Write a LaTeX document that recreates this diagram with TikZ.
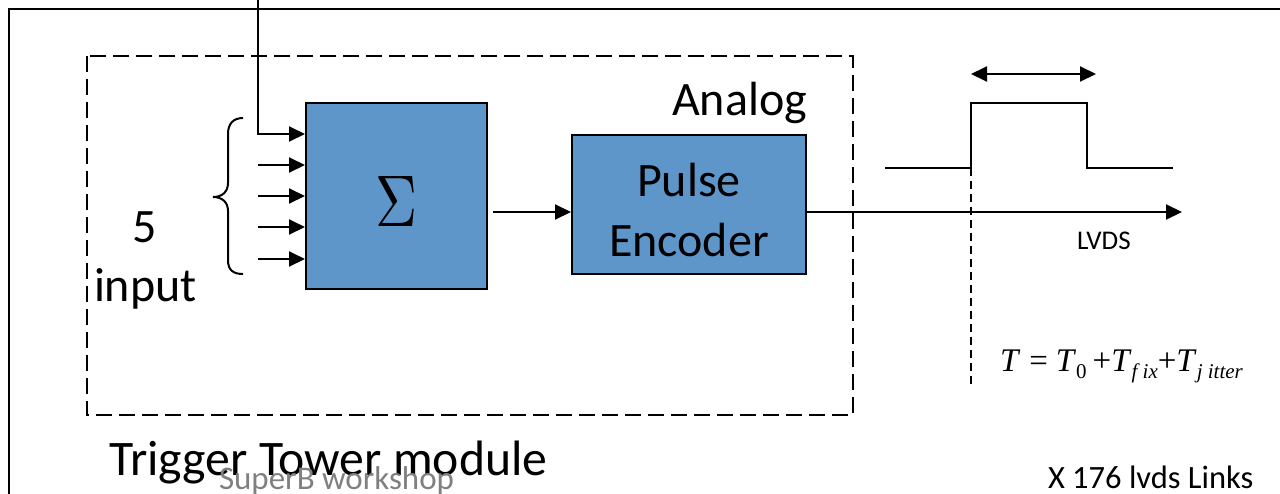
\documentclass[tikz,border=0pt]{standalone}
\usepackage{fontspec}
\setmainfont{Carlito}
\newfontfamily\tms{Liberation Serif}
\usetikzlibrary{arrows.meta}
\definecolor{blockblue}{RGB}{95,150,201}
\definecolor{footgray}{RGB}{128,128,128}
\newcommand{\fsz}[1]{\fontsize{#1}{#1}\selectfont}
\newcommand{\lowsub}[1]{\raisebox{-7pt}{\fsz{21}#1}}
\begin{document}
\begin{tikzpicture}[x=1pt,y=-1pt,line width=2pt,
  block/.style={draw=black,fill=blockblue,line width=2pt,inner sep=0pt},
  sig/.style={-{Triangle[length=16pt,width=15pt]}},
  dsig/.style={{Triangle[length=16pt,width=15pt]}-{Triangle[length=16pt,width=15pt]}},
  bigtext/.style={font=\fsz{48}},
  lbl/.style={inner sep=0pt}]
\useasboundingbox (0,0) rectangle (1280,493);
\clip (0,0) rectangle (1280,493);

% outer frame
\draw[line width=2.3pt] (1290,9) -- (9,9) -- (9,500);

% analog section
\draw[dash pattern=on 16pt off 7pt] (87,56) rectangle (853,415);
\node[lbl,bigtext,anchor=base east] (analog) at (808,115) {Analog};

% blocks
\node[block,minimum width=181pt,minimum height=186pt] (sum) at (396.5,196)
  {\raisebox{-5pt}[50pt][0pt]{\resizebox{42pt}{50pt}{$\Sigma$}}};
\node[block,minimum width=234pt,minimum height=139pt,align=center,
  font=\fontsize{48}{60}\selectfont,text height=103pt,text depth=0pt] (enc) at (689,204.5)
  {Pulse\\Encoder};

% inputs
\coordinate (top) at (258,-5);
\coordinate (in1) at (258,134);
\coordinate (in2) at (258,165);
\coordinate (in3) at (258,196);
\coordinate (in4) at (258,227);
\coordinate (in5) at (258,259);
\draw[sig] (top) -- (in1) -- (sum.west |- in1);
\foreach \k in {2,...,5} \draw[sig] (in\k) -- (sum.west |- in\k);

% brace and input count
\draw (243,118) .. controls (233,118) and (228,124) .. (228,134) -- (228,183)
  .. controls (228,192) and (222,197) .. (213,197)
  .. controls (222,197) and (228,202) .. (228,211) -- (228,260)
  .. controls (228,270) and (233,274) .. (243,274);
\node[lbl,bigtext,anchor=base] (five) at (145,242) {5};
\node[lbl,bigtext,anchor=base west] (inp) at (93,301) {input};

% signal path
\coordinate (out) at (1182,212);
\draw[sig] ([xshift=5pt]sum.east |- out) -- (enc.west |- out);
\draw[sig] (enc.east |- out) -- (out);
\node[lbl,anchor=base west,font=\fsz{27}] (lvds) at (1076,249) {LVDS};

% pulse waveform
\coordinate (p0) at (885,168);
\coordinate (p1) at (971,168);
\coordinate (p2) at (971,103);
\coordinate (p3) at (1087,103);
\coordinate (p4) at (1087,168);
\coordinate (p5) at (1173,168);
\draw (p0) -- (p1) -- (p2) -- (p3) -- (p4) -- (p5);
\coordinate (w0) at (971,74);
\coordinate (w1) at (1096,74);
\draw[dsig] (w0) -- (w1);
\coordinate (tick) at (971,387);
\draw[dash pattern=on 8pt off 5pt] (p1) -- (tick);

% timing formula
\node[lbl,anchor=base west,font=\tms\fsz{33}] (eq) at (999,371)
  {\textit{T}\hspace{9pt}=\hspace{8pt}\textit{T}\lowsub{0}\hspace{6pt}+\textit{T}\lowsub{\textit{f ix}}+\textit{T}\lowsub{\textit{j itter}}};

% captions
\node[lbl,anchor=base west,font=\fsz{49.7}] (ttm) at (108,475) {Trigger Tower module};
\node[lbl,anchor=base west,font=\fsz{33},text=footgray] (work) at (218,489) {SuperB workshop};
\node[lbl,anchor=base west,font=\fsz{32.5}] (links) at (1047,488) {X 176 lvds Links};
\end{tikzpicture}
\end{document}
